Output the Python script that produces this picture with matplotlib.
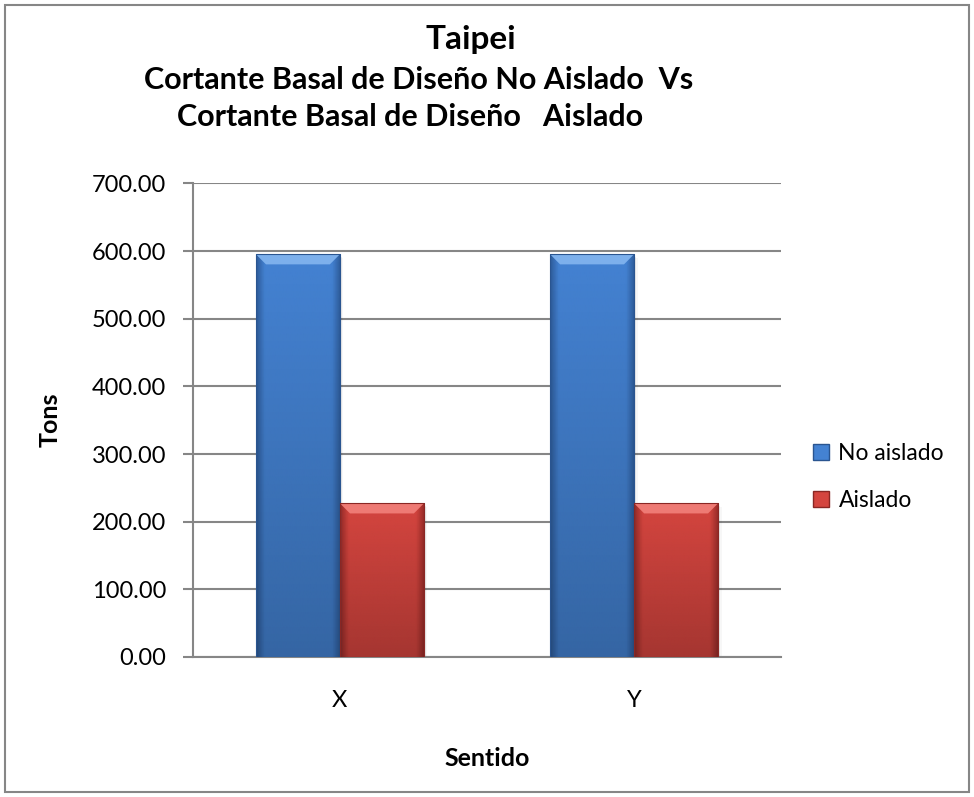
import numpy as np
import matplotlib.pyplot as plt
from matplotlib.patches import Rectangle, Polygon, Patch
from matplotlib.colors import LinearSegmentedColormap

plt.rcParams['font.family'] = ['Lato', 'DejaVu Sans']

categorias = ['X', 'Y']
no_aislado = [595.4, 595.4]
aislado = [227.2, 227.2]
series = ['No aislado', 'Aislado']

# base, light bevel and dark edge for each series
colores = {
    'No aislado': ('#4482D2', '#7DB0EC', '#2A5590'),
    'Aislado': ('#D4453F', '#EE7A74', '#8A2724'),
}

fig = plt.figure(figsize=(9.74, 7.97), dpi=100)
ax = fig.add_axes([0.198, 0.1757, 0.604, 0.5941])

x = np.arange(len(categorias))
ancho = 0.2857

barras_a = ax.bar(x - ancho / 2, no_aislado, ancho, color=colores['No aislado'][0], zorder=3)
barras_b = ax.bar(x + ancho / 2, aislado, ancho, color=colores['Aislado'][0], zorder=3)


def sombrear(barras, nombre):
    base, claro, oscuro = colores[nombre]
    cmap = LinearSegmentedColormap.from_list(
        nombre, [(0, oscuro), (0.1, base), (0.9, base), (1, oscuro)])
    grad = np.linspace(0, 1, 200).reshape(1, -1)
    # oscurecimiento vertical hacia la base
    vert = np.zeros((200, 1, 4))
    vert[:, 0, 3] = np.linspace(0, 0.22, 200)
    for b in barras:
        x0, y0 = b.get_x(), b.get_y()
        w, h = b.get_width(), b.get_height()
        # sombra suave detras de la barra
        for k, a in enumerate([0.10, 0.06, 0.03]):
            ax.add_patch(Rectangle((x0 + 0.004 * (k + 1), y0 - 2 * (k + 1)), w, h,
                                   color='#000000', alpha=a, zorder=2, lw=0))
        im = ax.imshow(grad, extent=(x0, x0 + w, y0, y0 + h), aspect='auto', cmap=cmap,
                       zorder=3.5, alpha=0.85)
        im.set_clip_path(b)
        im2 = ax.imshow(vert, extent=(x0, x0 + w, y0, y0 + h), aspect='auto', zorder=3.6)
        im2.set_clip_path(b)
        # bisel superior
        bw = w * 0.12
        bh = 15
        ax.add_patch(Polygon([(x0, y0 + h), (x0 + w, y0 + h), (x0 + w - bw, y0 + h - bh),
                              (x0 + bw, y0 + h - bh)], closed=True, color=claro, lw=0,
                             zorder=4))
        ax.add_patch(Rectangle((x0, y0), w, h, fill=False, ec=oscuro, lw=0.8, zorder=4.5))


sombrear(barras_a, 'No aislado')
sombrear(barras_b, 'Aislado')

ax.set_xlim(-0.5, len(categorias) - 0.5)
ax.set_ylim(0, 700)
ax.set_yticks(np.arange(0, 701, 100))
ax.set_yticklabels([f'{v:.2f}' for v in np.arange(0, 701, 100)])
ax.set_xticks(x)
ax.set_xticklabels(categorias)
ax.tick_params(axis='y', length=7, width=1.5, color='#868686', labelsize=17, pad=12)
ax.tick_params(axis='x', length=0, labelsize=17, pad=24)
ax.yaxis.grid(True, color='#868686', lw=1.5, zorder=1)
for s in ['top', 'right']:
    ax.spines[s].set_visible(False)
for s in ['left', 'bottom']:
    ax.spines[s].set_color('#868686')
    ax.spines[s].set_linewidth(1.5)

ax.set_ylabel('Tons', fontsize=18, fontweight='bold', labelpad=22)
ax.set_xlabel('Sentido', fontsize=18, fontweight='bold', labelpad=26)

fig.text(0.483, 0.950, 'Taipei', ha='center', va='center', fontsize=24, fontweight='bold')
fig.text(0.430, 0.900, 'Cortante Basal de Diseño No Aislado  Vs', ha='center', va='center',
         fontsize=22, fontweight='bold')
fig.text(0.421, 0.853, 'Cortante Basal de Diseño   Aislado', ha='center', va='center',
         fontsize=22, fontweight='bold')

handles = [Patch(facecolor=colores[n][0], edgecolor=colores[n][2]) for n in series]
fig.legend(handles, series, loc='center left', bbox_to_anchor=(0.835, 0.4015), frameon=False,
           fontsize=16.5, handlelength=0.7, handleheight=0.7, handletextpad=0.4,
           labelspacing=1.1, borderaxespad=0, borderpad=0)

fig.patches.append(Rectangle((0.005, 0.006), 0.99, 0.988, transform=fig.transFigure,
                             fill=False, ec='#868686', lw=1.5))

fig.savefig('out.png', dpi=100)
